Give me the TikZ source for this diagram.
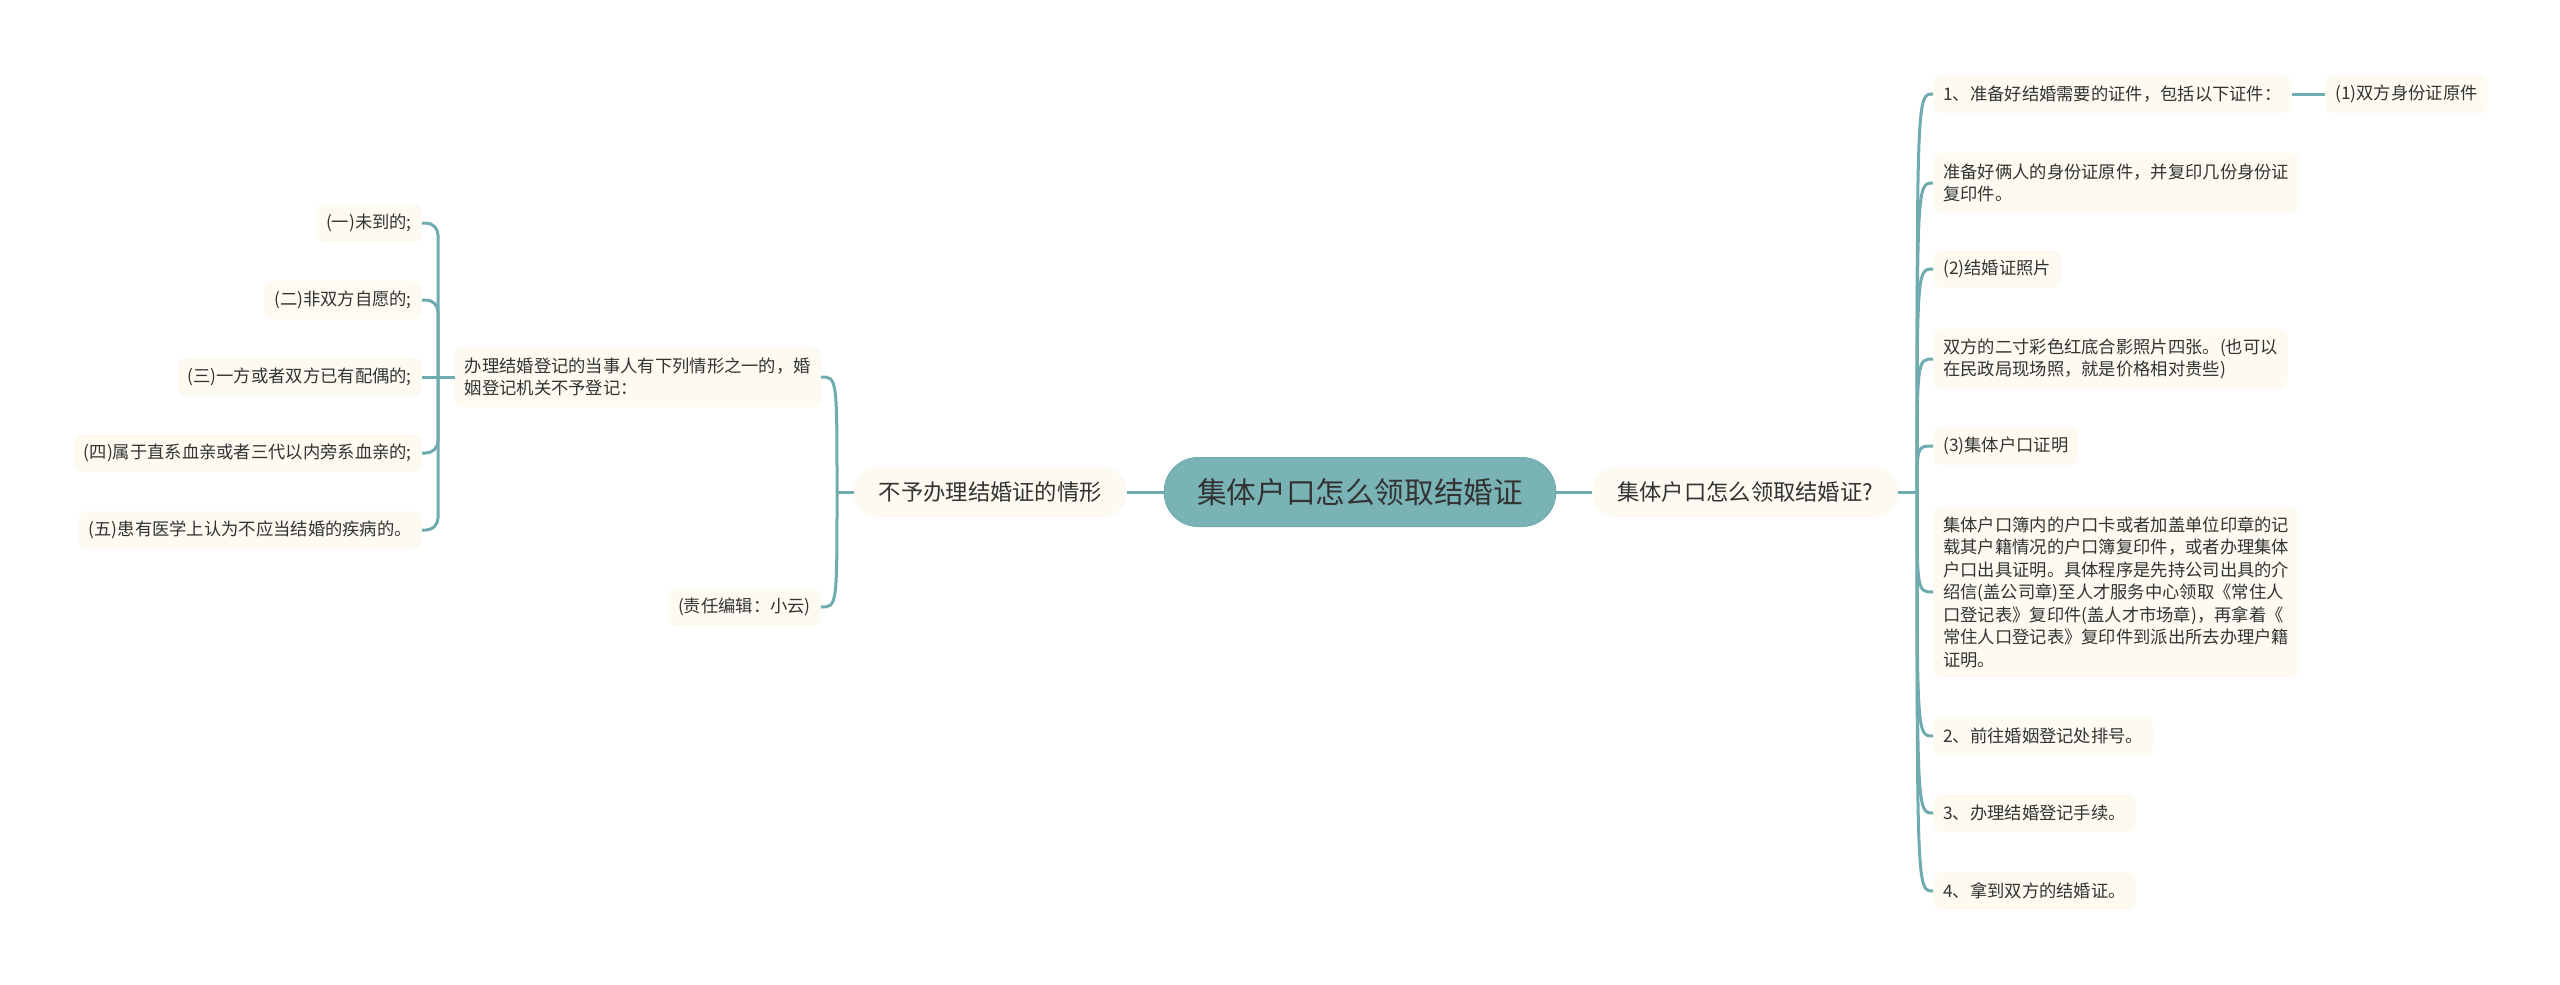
\documentclass[tikz,border=0pt]{standalone}
\usepackage{fontspec}
\setmainfont{Noto Sans CJK SC}
\usetikzlibrary{calc}
\definecolor{linec}{HTML}{70ABAF}
\definecolor{cream}{HTML}{FCFAF1}
\definecolor{txt}{HTML}{333333}
\definecolor{rootfill}{HTML}{7AB3B6}
\begin{document}
\begin{tikzpicture}[x=1pt,y=-1pt,
  leaf/.style={rectangle, rounded corners=8pt, fill=cream, text=txt, inner xsep=10pt, inner ysep=0pt, align=left, minimum height=38pt, font=\fontsize{17.3}{22.5}\selectfont},
  leafr/.style={leaf, align=right},
  two/.style={minimum height=60pt},
  mainnode/.style={rectangle, rounded corners=25pt, fill=cream, text=txt, inner xsep=25pt, inner ysep=0pt, minimum height=51pt, font=\fontsize{22.3}{26}\selectfont},
  rootnode/.style={rectangle, rounded corners=34pt, fill=rootfill, draw=linec, line width=1pt, text=txt, inner xsep=33pt, inner ysep=0pt, minimum height=69pt, font=\fontsize{29.6}{34}\selectfont},
  conn/.style={draw=linec, line width=3pt}]
\fill[white] (0,0) rectangle (2560,985);
\useasboundingbox (0,0) rectangle (2560,985);

% root and main branches
\node[rootnode] (root) at (1360,492) {集体户口怎么领取结婚证};
\node[mainnode, anchor=west] (rmain) at (1592,492) {集体户口怎么领取结婚证?};
\node[mainnode, anchor=east] (lmain) at (1127,492) {不予办理结婚证的情形};

% right children
\node[leaf, anchor=west] (r1) at (1933,94) {1、准备好结婚需要的证件，包括以下证件：};
\node[leaf, anchor=west] (r1a) at (2325,94) {(1)双方身份证原件};
\node[leaf, two, anchor=west] (r2) at (1933,183) {准备好俩人的身份证原件，并复印几份身份证\\复印件。};
\node[leaf, anchor=west] (r3) at (1933,269) {(2)结婚证照片};
\node[leaf, two, anchor=west] (r4) at (1933,359) {双方的二寸彩色红底合影照片四张。(也可以\\在民政局现场照，就是价格相对贵些)};
\node[leaf, anchor=west] (r5) at (1933,446) {(3)集体户口证明};
\node[leaf, minimum height=171pt, anchor=west] (r6) at (1933,592) {集体户口簿内的户口卡或者加盖单位印章的记\\载其户籍情况的户口簿复印件，或者办理集体\\户口出具证明。具体程序是先持公司出具的介\\绍信(盖公司章)至人才服务中心领取《常住人\\口登记表》复印件(盖人才市场章)，再拿着《\\常住人口登记表》复印件到派出所去办理户籍\\证明。};
\node[leaf, anchor=west] (r7) at (1933,736) {2、前往婚姻登记处排号。};
\node[leaf, anchor=west] (r8) at (1933,813) {3、办理结婚登记手续。};
\node[leaf, anchor=west] (r9) at (1933,891) {4、拿到双方的结婚证。};

% left children
\node[leaf, two, anchor=east] (l1) at (821,377) {办理结婚登记的当事人有下列情形之一的，婚\\姻登记机关不予登记：};
\node[leaf, anchor=east] (l2) at (821,607) {(责任编辑：小云)};

\node[leafr, anchor=east] (s1) at (422,223) {(一)未到的;};
\node[leafr, anchor=east] (s2) at (422,300) {(二)非双方自愿的;};
\node[leafr, anchor=east] (s3) at (422,377) {(三)一方或者双方已有配偶的;};
\node[leafr, anchor=east] (s4) at (422,453) {(四)属于直系血亲或者三代以内旁系血亲的;};
\node[leafr, anchor=east] (s5) at (422,530) {(五)患有医学上认为不应当结婚的疾病的。};

% connectors
\draw[conn] (root.east) -- (rmain.west);
\draw[conn] (root.west) -- (lmain.east);

\coordinate (rj) at (1917,492);
\draw[conn] (rmain.east) -- (rj);
\foreach \c in {r1,r2,r3,r4,r5,r6,r7,r8,r9}
  \draw[conn] (rj) .. controls (rj |- \c.west) .. (\c.west);
\draw[conn] (r1.east) -- (r1a.west);

\coordinate (lj) at (837,492);
\draw[conn] (lmain.west) -- (lj);
\foreach \c in {l1,l2}
  \draw[conn] (lj) .. controls (lj |- \c.east) .. (\c.east);

\coordinate (sj) at (438,377);
\draw[conn] (l1.west) -- (sj);
\foreach \c in {s1,s2,s4,s5}
  \draw[conn, rounded corners=12pt] (sj) |- (\c.east);
\draw[conn] (sj) -- (s3.east);
\end{tikzpicture}
\end{document}
